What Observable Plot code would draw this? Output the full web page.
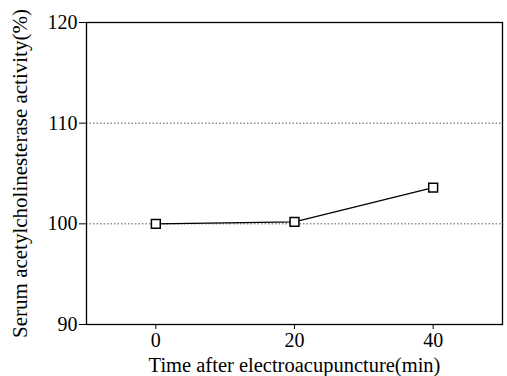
<!DOCTYPE html>
<html><head><meta charset="utf-8">
<script src="https://cdn.jsdelivr.net/npm/d3@7"></script>
<script src="https://cdn.jsdelivr.net/npm/@observablehq/plot@0.6"></script>
<style>
html,body{margin:0;padding:0;background:#fff;}
g[aria-label="x-axis label"] text { font-size: 20.5px; }
g[aria-label="y-axis label"] text { font-size: 21px; }
</style></head>
<body><div id="chart"></div>
<script>
const times = [0, 20, 40];
const activity = [100, 100.2, 103.6];
const xTicks = [0, 20, 40];
const yTicks = [90, 100, 110, 120];
const gridValues = [100, 110];
const xLabel = "Time after electroacupuncture(min)";
const yLabel = "Serum acetylcholinesterase activity(%)";

const data = times.map((t, i) => ({t, v: activity[i]}));

const chart = Plot.plot({
  width: 507,
  height: 376,
  marginLeft: 86,
  marginRight: 5,
  marginTop: 22,
  marginBottom: 52,
  style: {fontFamily: '"Liberation Serif","DejaVu Serif",serif', fontSize: "20px", background: "#fff", color: "#000"},
  x: {domain: [-10, 50], ticks: xTicks},
  y: {domain: [90, 120], ticks: yTicks},
  marks: [
    Plot.ruleY(gridValues, {stroke: "#555", strokeDasharray: "1.5,2", strokeWidth: 1}),
    Plot.frame({stroke: "#000", strokeWidth: 1.3}),
    Plot.axisX({ticks: xTicks, tickSize: 5, tickPadding: 3, label: xLabel, labelAnchor: "center", labelArrow: "none", labelOffset: 47}),
    Plot.axisY({ticks: yTicks, tickSize: 7, tickPadding: 2, label: yLabel, labelAnchor: "center", labelArrow: "none", labelOffset: 74}),
    Plot.line(data, {x: "t", y: "v", stroke: "#000", strokeWidth: 1.3}),
    Plot.dot(data, {x: "t", y: "v", symbol: "square", r: 5, stroke: "#000", strokeWidth: 1.5, fill: "#fff"})
  ]
});
document.getElementById("chart").appendChild(chart);
</script>
</body></html>
